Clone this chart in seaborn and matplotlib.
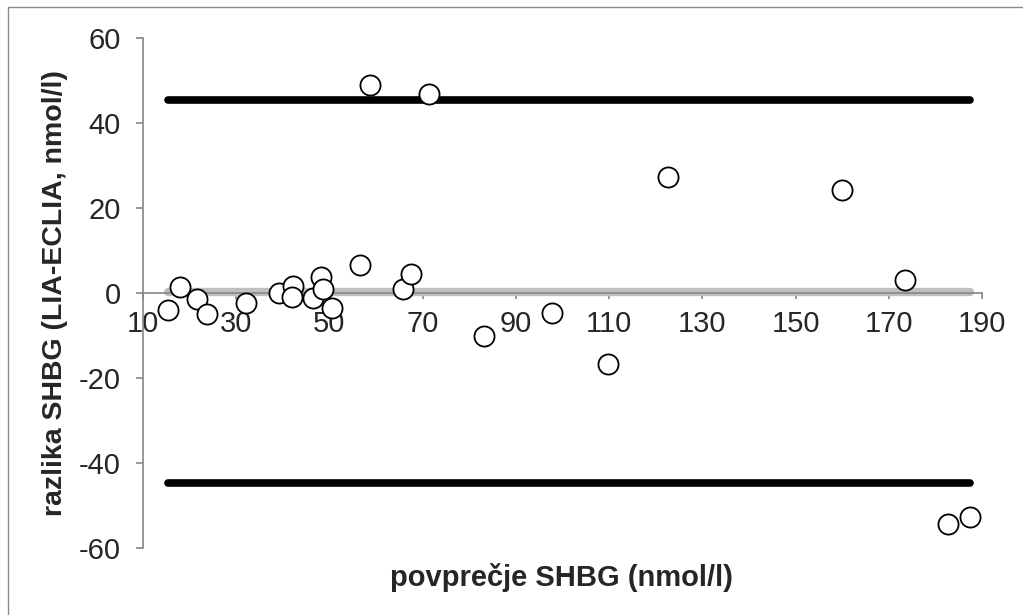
import matplotlib
matplotlib.use("Agg")
import matplotlib.pyplot as plt
from matplotlib.lines import Line2D
import seaborn as sns
import pandas as pd

# average of the two methods (x) and difference LIA-ECLIA (y)
mean_shbg = [15.4, 18.0, 21.6, 23.8, 32.0, 39.1, 42.1, 42.0, 46.5, 48.1, 48.7, 50.5,
             56.5, 65.8, 67.4, 83.1, 97.7, 109.7, 58.6, 71.3, 122.6, 160.0, 173.4,
             182.6, 187.4]
diff_shbg = [-4.0, 1.5, -1.5, -4.9, -2.4, 0.1, 1.6, -0.9, -1.2, 3.7, 0.9, -3.6,
             6.6, 0.9, 4.5, -10.0, -4.8, -16.7, 48.9, 46.8, 27.4, 24.2, 3.1,
             -54.4, -52.8]

mean_diff = 0.3
upper_loa = 45.5
lower_loa = -44.6

x_ticks = [10, 30, 50, 70, 90, 110, 130, 150, 170, 190]
y_ticks = [-60, -40, -20, 0, 20, 40, 60]

df = pd.DataFrame({"povprecje": mean_shbg, "razlika": diff_shbg})

sns.set_style("white")
plt.rcParams["font.family"] = ["Liberation Sans", "DejaVu Sans"]
plt.rcParams["axes.unicode_minus"] = False

fig = plt.figure(figsize=(10.23, 6.15), dpi=100)
ax = fig.add_axes([143 / 1023, 1 - 548 / 615, (982 - 143) / 1023, (548 - 38) / 615])

x_lo, x_hi = min(mean_shbg), max(mean_shbg)
ax.plot([x_lo, x_hi], [upper_loa, upper_loa], color="black", lw=5.5,
        solid_capstyle="round", zorder=2)
ax.plot([x_lo, x_hi], [lower_loa, lower_loa], color="black", lw=5.5,
        solid_capstyle="round", zorder=2)
ax.plot([x_lo, x_hi], [mean_diff, mean_diff], color="#BFBFBF", lw=6,
        solid_capstyle="round", zorder=2.5)

sns.scatterplot(data=df, x="povprecje", y="razlika", ax=ax, s=210,
                facecolor="white", edgecolor="black", linewidth=1.3,
                zorder=3, clip_on=False)

ax.set_xlim(10, 190)
ax.set_ylim(-60, 60)
ax.set_xticks(x_ticks)
ax.set_yticks(y_ticks)

for side in ["top", "right"]:
    ax.spines[side].set_visible(False)
ax.spines["bottom"].set_position(("data", 0))
for side in ["left", "bottom"]:
    ax.spines[side].set_color("#868686")
    ax.spines[side].set_linewidth(1.2)

ax.tick_params(axis="x", direction="out", length=4.3, width=1.2, color="#868686",
               pad=8, labelsize=21, bottom=True)
ax.tick_params(axis="y", direction="out", length=5, width=1.2, color="#868686",
               pad=11, labelsize=21, left=True)

ax.set_xlabel("")
ax.set_ylabel("")
fig.text(562 / 1023, 1 - 577 / 615, "povprečje SHBG (nmol/l)", ha="center",
         va="center", fontsize=21, fontweight="bold")
fig.text(55 / 1023, 1 - 293 / 615, "razlika SHBG (LIA-ECLIA, nmol/l)", ha="center",
         va="center", rotation=90, fontsize=20.5, fontweight="bold")

# chart-area frame (only top and left edges are visible in the crop)
fig.add_artist(Line2D([8 / 1023, 1], [1 - 7 / 615, 1 - 7 / 615], color="#8c8c8c", lw=1))
fig.add_artist(Line2D([8 / 1023, 8 / 1023], [0, 1 - 7 / 615], color="#8c8c8c", lw=1))

fig.savefig("out.png", dpi=100)
